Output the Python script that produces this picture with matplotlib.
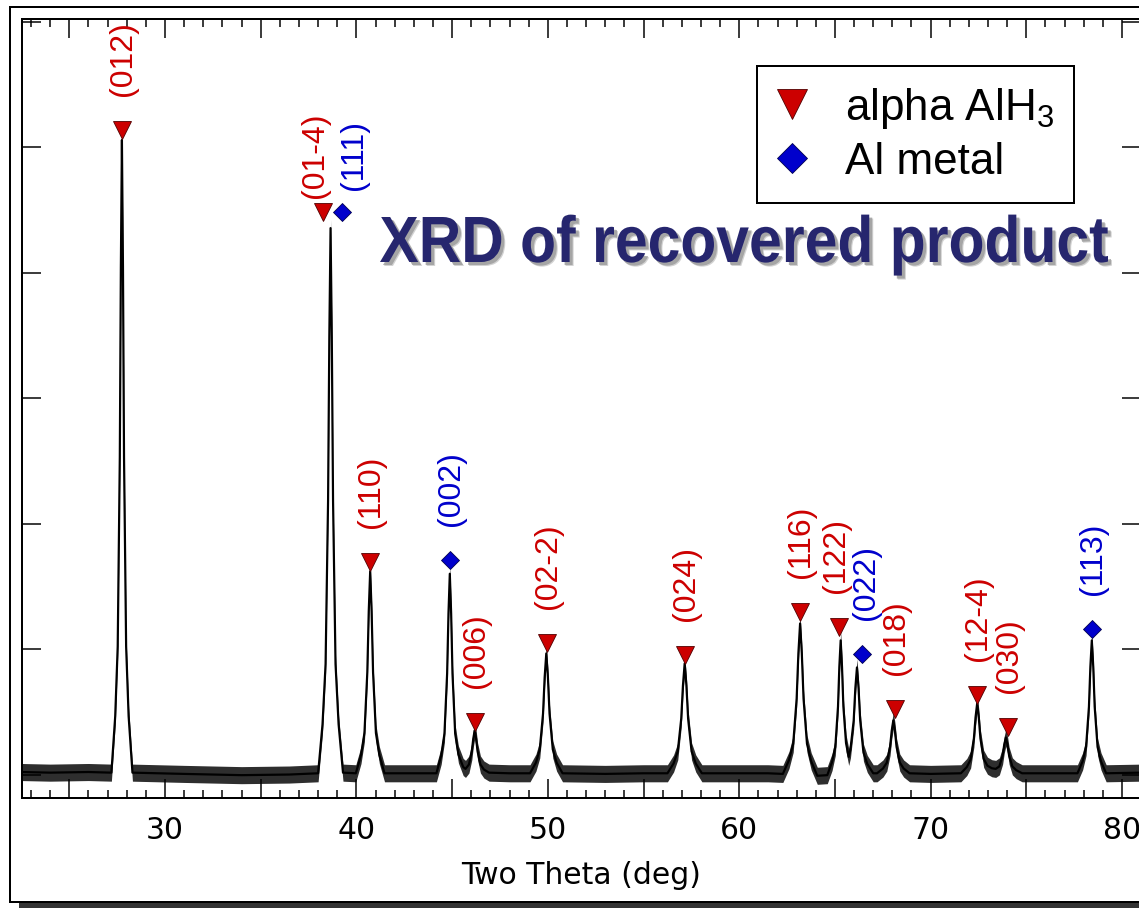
import matplotlib
matplotlib.use("Agg")
import matplotlib.pyplot as plt
from matplotlib.ticker import MultipleLocator, FuncFormatter
from matplotlib.patches import Rectangle, PathPatch
from matplotlib.textpath import TextPath
from matplotlib.font_manager import FontProperties
from matplotlib.transforms import Affine2D

plt.rcParams["font.family"] = ["DejaVu Sans"]
plt.rcParams["mathtext.fontset"] = "custom"
plt.rcParams["mathtext.rm"] = "Liberation Sans"
plt.rcParams["mathtext.default"] = "rm"

# ---------------- data ----------------
two_theta = [
    22.5, 24.0, 26.0,
    27.20, 27.40, 27.53, 27.64, 27.695, 27.75, 27.805, 27.86, 27.97, 28.10, 28.30,
    31.0, 34.0, 36.5,
    38.00, 38.23, 38.39, 38.52, 38.585, 38.65, 38.715, 38.78, 38.91, 39.07, 39.30,
    39.97, 40.24, 40.42, 40.57, 40.645, 40.72, 40.795, 40.87, 41.02, 41.20, 41.47,
    43.0,
    44.18, 44.43, 44.60, 44.74, 44.81, 44.88, 44.95, 45.02, 45.16, 45.33, 45.58,
    45.70, 45.88, 46.03, 46.105, 46.18, 46.255, 46.33, 46.48, 46.66, 46.93,
    48.0,
    49.07, 49.38, 49.58, 49.75, 49.835, 49.92, 50.005, 50.09, 50.26, 50.46, 50.77,
    53.0, 55.0,
    56.25, 56.57, 56.79, 56.97, 57.06, 57.15, 57.24, 57.33, 57.51, 57.73, 58.05,
    60.0, 61.5,
    62.28, 62.60, 62.82, 63.00, 63.09, 63.18, 63.27, 63.36, 63.54, 63.76, 64.08,
    64.60, 64.85, 65.02, 65.16, 65.23, 65.30, 65.37, 65.44, 65.58,
    65.72,
    65.81, 65.98, 66.065, 66.15, 66.235, 66.32, 66.49, 66.69, 67.00,
    67.20, 67.51, 67.71, 67.88, 67.965, 68.05, 68.135, 68.22, 68.39, 68.59, 68.90,
    70.0,
    71.58, 71.89, 72.09, 72.26, 72.345, 72.43, 72.515, 72.60, 72.77, 72.97,
    73.20,
    73.40, 73.59, 73.76, 73.845, 73.93, 74.015, 74.10, 74.27, 74.47, 74.78,
    76.0,
    77.67, 77.94, 78.12, 78.27, 78.345, 78.42, 78.495, 78.57, 78.72, 78.90, 79.17,
    81.0,
]
intensity = [
    20, 15, 20,
    15, 465, 1020, 2530, 4045, 5056, 4045, 2530, 1020, 465, 15,
    5, -5, 0,
    10, 400, 880, 2180, 3485, 4354, 3485, 2180, 880, 400, 15,
    10, 155, 330, 815, 1300, 1620, 1300, 815, 330, 155, 10,
    10,
    10, 150, 325, 805, 1282, 1600, 1282, 805, 325, 160, 60,
    45, 80, 185, 285, 351, 285, 185, 80, 40, 15,
    10,
    10, 95, 200, 485, 775, 965, 775, 485, 200, 95, 10,
    5, 10,
    10, 88, 185, 445, 710, 885, 710, 445, 185, 88, 10,
    10, 10,
    5, 115, 245, 605, 965, 1204, 965, 605, 245, 105, -10,
    -5, 100, 220, 540, 858, 1069, 858, 545, 250,
    140,
    200, 430, 685, 853, 685, 430, 175, 85, 10,
    10, 48, 95, 220, 347, 431, 347, 220, 95, 48, 10,
    5,
    10, 60, 120, 288, 455, 566, 455, 288, 125, 70,
    50,
    45, 65, 150, 238, 295, 238, 150, 65, 35, 10,
    10,
    10, 105, 220, 540, 860, 1069, 860, 540, 220, 105, 10,
    15,
]
noise_amplitude = 68  # half-height of the noisy baseline band (counts)

alpha_pos = [27.75, 38.26, 40.71, 46.20, 49.96, 57.17, 63.18, 65.22, 68.14, 72.43, 74.05]
alpha_int = [5135, 4482, 1690, 415, 1045, 949, 1292, 1172, 526, 630, 375]
alpha_hkl = ["(012)", "(01-4)", "(110)", "(006)", "(02-2)", "(024)", "(116)",
             "(122)", "(018)", "(12-4)", "(030)"]

al_pos = [39.25, 44.89, 66.42, 78.43]
al_int = [4482, 1706, 957, 1156]
al_hkl = ["(111)", "(002)", "(022)", "(113)"]

x_tick_step = 5
y_tick_step = 1000

# ---------------- layout ----------------
W, H = 1139, 908
DPI = 100
PX = 72.0 / DPI  # points per pixel

fig = plt.figure(figsize=(W / DPI, H / DPI), dpi=DPI, facecolor="white")

# outer frame with drop shadow
fig.add_artist(Rectangle((19 / W, -5 / H), 1150 / W, 898 / H, transform=fig.transFigure,
                         facecolor="#333333", edgecolor="none", zorder=-3))
fig.add_artist(Rectangle((10 / W, 6 / H), 1150 / W, 895 / H, transform=fig.transFigure,
                         facecolor="white", edgecolor="black", linewidth=2 * PX, zorder=-2))

ax = fig.add_axes([22 / W, (H - 797.5) / H, 1119 / W, 779 / H])
ax.set_xlim(22.53, 80.99)
ax.set_ylim(-183, 6024)

lower = [v - noise_amplitude for v in intensity]
upper = [v + noise_amplitude for v in intensity]
ax.fill_between(two_theta, lower, upper, color="black", linewidth=0, alpha=0.82, zorder=2)
ax.plot(two_theta, intensity, color="black", linewidth=2.2 * PX, zorder=3)

red = "#cc0000"
blue = "#0000cc"
h_alpha, = ax.plot(alpha_pos, alpha_int, linestyle="none", marker="v", markersize=18 * PX,
                   markerfacecolor=red, markeredgecolor="#500000", markeredgewidth=0.6,
                   zorder=4, label="alpha AlH$_3$")
h_al, = ax.plot(al_pos, al_int, linestyle="none", marker="D", markersize=12.7 * PX,
                markerfacecolor=blue, markeredgecolor="#000050", markeredgewidth=0.6,
                zorder=4, label="Al metal")

# peak labels: default offset (dx, gap) in pixels, plus a few hand-placed ones
label_offset = {"(01-4)": (-8, 14), "(111)": (12, 22), "(122)": (-3, 34), "(022)": (4, 34)}
default_offset = (1, 34)
for pos, val, txt, col in ([(p, v, t, red) for p, v, t in zip(alpha_pos, alpha_int, alpha_hkl)] +
                           [(p, v, t, blue) for p, v, t in zip(al_pos, al_int, al_hkl)]):
    dx, gap = label_offset.get(txt, default_offset)
    ax.annotate(txt, xy=(pos, val), xytext=(dx * PX, gap * PX), textcoords="offset points",
                rotation=90, ha="center", va="bottom", color=col, fontsize=23,
                family="Liberation Sans", zorder=5)

# axes styling
for sp in ax.spines.values():
    sp.set_linewidth(2 * PX)
ax.xaxis.set_major_locator(MultipleLocator(x_tick_step))
ax.xaxis.set_minor_locator(MultipleLocator(1))
ax.xaxis.set_major_formatter(FuncFormatter(lambda v, p: f"{v:.0f}" if round(v) % 10 == 0 else ""))
ax.yaxis.set_major_locator(MultipleLocator(y_tick_step))
ax.tick_params(axis="both", which="major", direction="in", length=19 * PX, width=1.5 * PX,
               top=True, right=True, labelleft=False, labelsize=21.5, pad=13)
ax.tick_params(axis="x", which="minor", direction="in", length=8 * PX, width=1.5 * PX,
               top=True, bottom=True)
ax.set_xlabel("Two Theta (deg)", fontsize=21.5, labelpad=12)

leg = ax.legend(handles=[h_alpha, h_al], loc="upper left",
                bbox_to_anchor=(757 / W, 1 - 66 / H), bbox_transform=fig.transFigure,
                prop={"family": "Liberation Sans", "size": 31.7}, frameon=True,
                fancybox=False, shadow=False, framealpha=1, edgecolor="black",
                borderpad=0.45, handlelength=0.7, handletextpad=0.85, labelspacing=0.25,
                markerscale=1.65, borderaxespad=0)
leg.get_frame().set_linewidth(2 * PX)

# title with drop shadow
title = "XRD of recovered product"
fp = FontProperties(family="Liberation Sans", weight="bold")
tp = TextPath((0, 0), title, size=100, prop=fp)
ext = tp.get_extents()
cap = TextPath((0, 0), "X", size=100, prop=fp).get_extents()
sx = 728 / ext.width
sy = 45 / cap.height
base = Affine2D().translate(-ext.x0, 0).scale(sx, sy).translate(380, H - 262)
for off, col, a in [((4, -4), "#c8c8c8", 0.8), ((3, -3), "#9a9a9a", 0.8)]:
    fig.add_artist(PathPatch(tp, transform=base + Affine2D().translate(*off),
                             facecolor=col, edgecolor="none", alpha=a, zorder=5))
fig.add_artist(PathPatch(tp, transform=base, facecolor="#26266e", edgecolor="none", zorder=6))

fig.savefig("out.png", dpi=DPI, facecolor="white")
